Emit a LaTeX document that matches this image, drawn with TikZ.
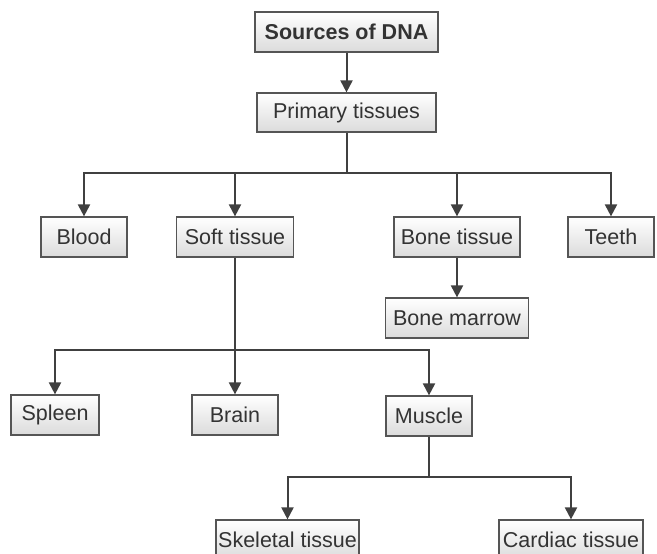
\documentclass[tikz,border=0pt]{standalone}
\usepackage{fontspec}
\setmainfont{Liberation Sans}
\usepackage{tikz}
\usetikzlibrary{arrows.meta,positioning,calc}
\definecolor{boxline}{HTML}{555555}
\definecolor{linkgray}{HTML}{404040}
\definecolor{boxtext}{HTML}{333333}

\begin{document}
\begin{tikzpicture}[x=1pt,y=-1pt,
  tbox/.style={draw=boxline,line width=1.2pt,top color=white,bottom color=gray!28,text=boxtext,minimum height=40pt,inner xsep=0pt,font=\fontsize{21.5}{24}\selectfont},
  link/.style={draw=linkgray,line width=2pt,-{Triangle[width=12pt,length=12pt]}},
  bar/.style={draw=linkgray,line width=2pt}]
\useasboundingbox (0,0) rectangle (657,554);
% root and first level
\node[tbox,minimum width=183pt,font=\fontsize{21.5}{24}\selectfont\bfseries] (src) at (346.5,32) {Sources of DNA};
\node[tbox,minimum width=179pt,minimum height=39pt] (prim) at (346.5,112.5) {Primary tissues};
\node[tbox,minimum width=86pt] (blood) at (84,237) {Blood};
\node[tbox,minimum width=117pt] (soft) at (235,237) {Soft tissue};
\node[tbox,minimum width=126pt] (bone) at (457,237) {Bone tissue};
\node[tbox,minimum width=86pt] (teeth) at (611,237) {Teeth};
\node[tbox,minimum width=143pt] (marrow) at (457,318) {Bone marrow};
% soft tissue branch
\node[tbox,minimum width=88pt] (spleen) at (55,415) {Spleen};
\node[tbox,minimum width=86pt] (brain) at (235,415) {Brain};
\node[tbox,minimum width=86pt] (muscle) at (429,416) {Muscle};
\node[tbox,minimum width=143pt] (skel) at (287.5,540) {Skeletal tissue};
\node[tbox,minimum width=144pt] (card) at (571,540) {Cardiac tissue};
% connectors
\coordinate (split1) at (prim |- 0,173);
\coordinate (split2) at (soft |- 0,350);
\coordinate (split3) at (muscle |- 0,477);
\draw[link] (src) -- (prim);
\draw[bar] (prim) -- (split1);
\foreach \n in {blood,soft,bone,teeth} \draw[link] (split1) -| (\n);
\draw[link] (bone) -- (marrow);
\draw[bar] (soft) -- (split2);
\foreach \n in {spleen,brain,muscle} \draw[link] (split2) -| (\n);
\draw[bar] (muscle) -- (split3);
\foreach \n in {skel,card} \draw[link] (split3) -| (\n);
\end{tikzpicture}
\end{document}
